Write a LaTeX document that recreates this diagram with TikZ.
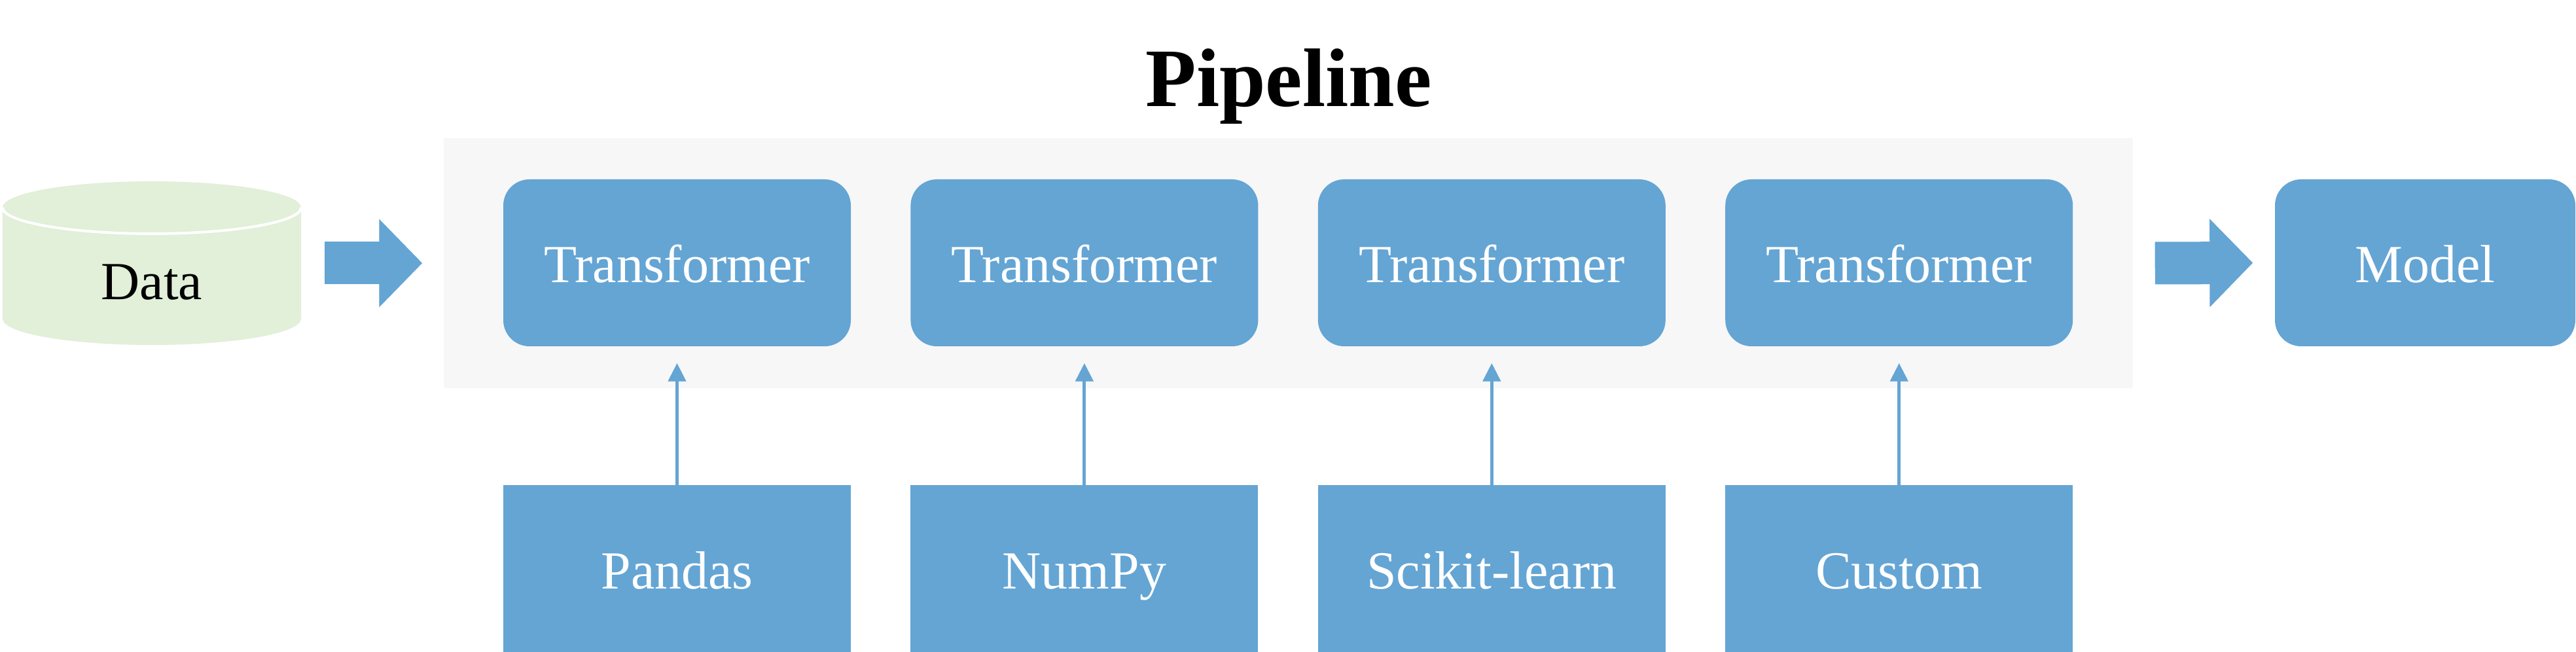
\documentclass[tikz,border=0pt]{standalone}
\usepackage{fontspec}
\setmainfont{Liberation Serif}
\usetikzlibrary{positioning,arrows.meta}
\definecolor{boxblue}{RGB}{100,165,212}
\definecolor{datagreen}{RGB}{226,239,217}
\definecolor{pipegray}{RGB}{247,247,247}
\tikzset{
  tbox/.style={fill=boxblue, text=white, rounded corners=0.4cm, minimum width=5.31cm,
    minimum height=2.55cm, text height=0.6cm, text depth=0pt, inner sep=0pt,
    font=\fontsize{23.3pt}{28pt}\selectfont},
  lbox/.style={tbox, rounded corners=0pt, minimum height=2.56cm},
  bigarrow/.style={boxblue, line width=0.65cm, -{Triangle[length=0.66cm,width=1.31cm]}},
  feed/.style={boxblue, line width=0.05cm, -{Triangle[length=0.28cm,width=0.27cm]}, shorten >=0.25cm},
}

\begin{document}
\begin{tikzpicture}
   \useasboundingbox (0,0) rectangle (39.36,9.96);

   % タイトル
   \node[anchor=base, font=\fontsize{36.1pt}{43pt}\selectfont\bfseries] (title) at (19.69,8.33) {Pipeline};

   % パイプライン
   \node[fill=pipegray, minimum width=25.81cm, minimum height=3.82cm] (pipe) at (19.685,5.94) {};
   \node[tbox] (t1) at (10.345,5.945) {Transformer};
   \node[tbox, right=0.9cm of t1] (t2) {Transformer};
   \node[tbox, right=0.9cm of t2] (t3) {Transformer};
   \node[tbox, right=0.9cm of t3] (t4) {Transformer};

   % ライブラリ
   \node[lbox, below=2.11cm of t1] (lib1) {Pandas};
   \node[lbox, below=2.11cm of t2] (lib2) {NumPy};
   \node[lbox, below=2.11cm of t3] (lib3) {Scikit-learn};
   \node[lbox, below=2.11cm of t4] (lib4) {Custom};

   % データ
   \fill[datagreen] (0.04,6.79) -- (0.04,5.09)
      arc[start angle=180, end angle=360, x radius=2.28cm, y radius=0.4cm]
      -- (4.60,6.79) arc[start angle=0, end angle=180, x radius=2.28cm, y radius=0.4cm] -- cycle;
   \draw[white, line width=0.04cm] (0.04,6.79) arc[start angle=180, end angle=360, x radius=2.28cm, y radius=0.4cm];
   \node[minimum width=4.56cm, text height=0.6cm, text depth=0pt, inner sep=0pt,
      font=\fontsize{23.3pt}{28pt}\selectfont] (data) at (2.32,5.68) {Data};

   % モデル
   \node[tbox, minimum width=4.59cm] (model) at (37.055,5.945) {Model};

   % 矢印
   \draw[bigarrow, shorten <=0.35cm, shorten >=0.32cm] (data.east |- pipe.west) -- (pipe.west);
   \draw[bigarrow, shorten <=0.33cm, shorten >=0.33cm] (pipe.east) -- (model.west);
   \draw[feed] (lib1) -- (t1);
   \draw[feed] (lib2) -- (t2);
   \draw[feed] (lib3) -- (t3);
   \draw[feed] (lib4) -- (t4);

\end{tikzpicture}
\end{document}
